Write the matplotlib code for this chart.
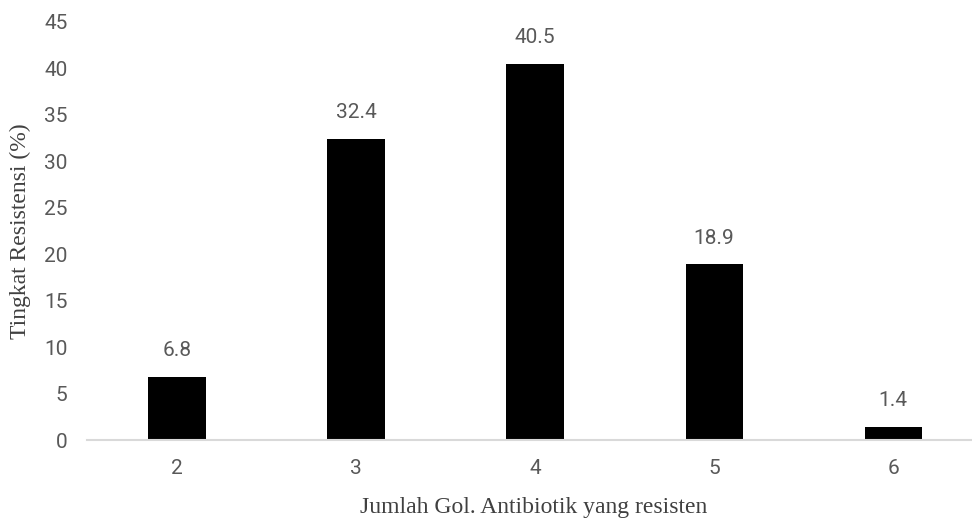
import numpy as np
import matplotlib.pyplot as plt

# Jumlah golongan antibiotik vs tingkat resistensi
categories = ['2', '3', '4', '5', '6']
resistensi = [6.8, 32.4, 40.5, 18.9, 1.4]
yticks = [0, 5, 10, 15, 20, 25, 30, 35, 40, 45]

tick_color = '#595959'
serif = ['Liberation Serif', 'DejaVu Serif']

fig = plt.figure(figsize=(9.72, 5.23), dpi=100)
ax = fig.add_axes([87 / 972, 1 - 440 / 523, 1 - 87 / 972, (440 - 22) / 523])

x = np.arange(len(categories))
bars = ax.bar(x, resistensi, width=0.32, color='black', zorder=2)

for xi, v in zip(x, resistensi):
    ax.annotate(f'{v:.1f}', (xi, v), xytext=(0, 12), textcoords='offset points',
                ha='center', va='bottom', fontsize=15, color=tick_color,
                family='Roboto')

ax.set_xlim(-0.503, 4.44)
ax.set_ylim(0, 45)
ax.set_xticks(x)
ax.set_xticklabels(categories)
ax.set_yticks(yticks)

for s in ['top', 'right', 'left']:
    ax.spines[s].set_visible(False)
ax.spines['bottom'].set_color('#d9d9d9')
ax.spines['bottom'].set_linewidth(1.5)

ax.tick_params(axis='both', length=0, labelsize=15, labelcolor=tick_color)
ax.tick_params(axis='x', pad=14)
ax.tick_params(axis='y', pad=14)
for lbl in ax.get_xticklabels() + ax.get_yticklabels():
    lbl.set_family('Roboto')

fig.text(534 / 972, 1 - 507 / 523,
         'Jumlah Gol. Antibiotik yang resisten', ha='center', va='center',
         fontsize=17, family=serif, color='#404040')
fig.text(20 / 972, 1 - 231 / 523, 'Tingkat Resistensi (%)', rotation=90,
         ha='center', va='center', fontsize=17, family=serif, color='#404040')

fig.savefig('out.png', dpi=100)
